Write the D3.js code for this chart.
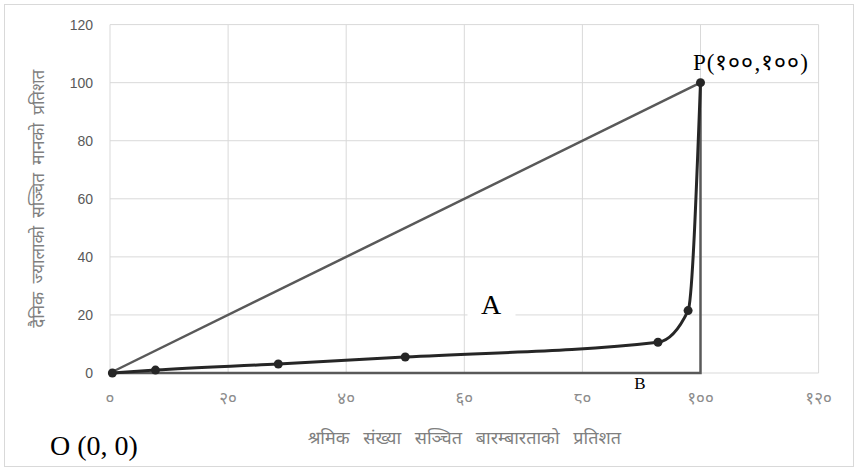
<!DOCTYPE html>
<html lang="ne">
  <head>
    <meta charset="UTF-8" />
    <title>Lorenz curve</title>
    <style>
      body {
        margin: 0;
        background: #fff;
      }
      .tick-y {
        font-family: 'Liberation Sans', Arial, sans-serif;
        font-size: 14px;
        fill: #595959;
      }
      .tick-x {
        font-family: 'Noto Sans', 'Liberation Sans', sans-serif;
        font-size: 17px;
        fill: #8c8c8c;
      }
      .axis-title {
        font-family: 'Noto Sans', 'Liberation Sans', sans-serif;
        font-size: 17px;
        fill: #7f7f7f;
      }
      .note {
        font-family: 'Liberation Serif', 'Times New Roman', serif;
        fill: #000;
      }
    </style>
  </head>
  <body>
    <div id="main"></div>
    <script src="https://cdn.jsdelivr.net/npm/d3@7"></script>
    <script>
      // cumulative % of workers vs cumulative % of daily wages
      const workerPct = [0.4, 7.7, 28.5, 50.0, 92.8, 97.9, 100]
      const wagePct = [0, 1.0, 3.1, 5.5, 10.6, 21.5, 100]
      // line of equality O -> P
      const equalX = [0, 100]
      const equalY = [0, 100]
      // O -> B -> P
      const boundX = [0, 100, 100]
      const boundY = [0, 0, 100]

      const xTicks = [0, 20, 40, 60, 80, 100, 120]
      const xTickLabels = ['०', '२०', '४०', '६०', '८०', '१००', '१२०']
      const yTicks = [0, 20, 40, 60, 80, 100, 120]

      const xTitle = 'श्रमिक संख्या सञ्चित बारम्बारताको प्रतिशत'
      const yTitle = 'दैनिक ज्यालाको सञ्चित मानको प्रतिशत'

      const [width, height] = [858, 471]
      const plot = { left: 110, right: 818.6, top: 24.6, bottom: 373 }

      const svg = d3
        .select('#main')
        .append('svg')
        .attr('width', width)
        .attr('height', height)
        .attr('viewBox', `0 0 ${width} ${height}`)

      // chart frame
      svg
        .append('rect')
        .attr('x', 4.5)
        .attr('y', 4.5)
        .attr('width', width - 9)
        .attr('height', height - 9)
        .attr('fill', '#fff')
        .attr('stroke', '#d9d9d9')

      const xScale = d3.scaleLinear().domain([0, 120]).range([plot.left, plot.right])
      const yScale = d3.scaleLinear().domain([0, 120]).range([plot.bottom, plot.top])

      // grid
      const grid = svg.append('g').attr('stroke', '#d9d9d9').attr('stroke-width', 1)
      grid
        .selectAll('.gx')
        .data(xTicks)
        .join('line')
        .attr('x1', d => xScale(d))
        .attr('x2', d => xScale(d))
        .attr('y1', plot.top)
        .attr('y2', plot.bottom)
      grid
        .selectAll('.gy')
        .data(yTicks)
        .join('line')
        .attr('y1', d => yScale(d))
        .attr('y2', d => yScale(d))
        .attr('x1', plot.left)
        .attr('x2', plot.right)

      // tick labels
      svg
        .append('g')
        .selectAll('text')
        .data(yTicks)
        .join('text')
        .attr('class', 'tick-y')
        .attr('x', plot.left - 17)
        .attr('y', d => yScale(d))
        .attr('dy', '0.35em')
        .attr('text-anchor', 'end')
        .text(d => d)

      svg
        .append('g')
        .selectAll('text')
        .data(xTicks)
        .join('text')
        .attr('class', 'tick-x')
        .attr('x', d => xScale(d))
        .attr('y', plot.bottom + 25)
        .attr('dy', '0.35em')
        .attr('text-anchor', 'middle')
        .text((_, i) => xTickLabels[i])

      // axis titles
      svg
        .append('text')
        .attr('class', 'axis-title')
        .attr('x', (plot.left + plot.right) / 2)
        .attr('y', 438)
        .attr('dy', '0.35em')
        .attr('text-anchor', 'middle')
        .style('font-size', '18px')
        .style('word-spacing', '9px')
        .text(xTitle)

      svg
        .append('text')
        .attr('class', 'axis-title')
        .attr('transform', `translate(38, ${(plot.top + plot.bottom) / 2}) rotate(-90)`)
        .attr('dy', '0.35em')
        .attr('text-anchor', 'middle')
        .style('word-spacing', '4px')
        .text(yTitle)

      const line = d3
        .line()
        .x(d => xScale(d[0]))
        .y(d => yScale(d[1]))

      const zip = (xs, ys) => xs.map((x, i) => [x, ys[i]])

      // "A" label box sits on the grid, under the lines
      svg
        .append('rect')
        .attr('x', 467.5)
        .attr('y', 286)
        .attr('width', 48)
        .attr('height', 40)
        .attr('fill', '#fff')
      svg
        .append('text')
        .attr('class', 'note')
        .attr('x', 491)
        .attr('y', 314)
        .attr('text-anchor', 'middle')
        .style('font-size', '28px')
        .text('A')

      svg
        .append('path')
        .attr('d', line(zip(equalX, equalY)))
        .attr('fill', 'none')
        .attr('stroke', '#595959')
        .attr('stroke-width', 2.5)

      svg
        .append('path')
        .attr('d', line(zip(boundX, boundY)))
        .attr('fill', 'none')
        .attr('stroke', '#595959')
        .attr('stroke-width', 2.5)

      const lorenz = zip(workerPct, wagePct)
      svg
        .append('path')
        .attr('d', line.curve(d3.curveMonotoneX)(lorenz))
        .attr('fill', 'none')
        .attr('stroke', '#262626')
        .attr('stroke-width', 3)

      svg
        .append('g')
        .selectAll('circle')
        .data(lorenz)
        .join('circle')
        .attr('cx', d => xScale(d[0]))
        .attr('cy', d => yScale(d[1]))
        .attr('r', 4.5)
        .attr('fill', '#262626')

      // annotations
      svg
        .append('text')
        .attr('class', 'note')
        .attr('x', 693)
        .attr('y', 70)
        .style('font-size', '23px')
        .style('letter-spacing', '1px')
        .text('P(१००,१००)')

      svg
        .append('text')
        .attr('class', 'note')
        .attr('x', 640)
        .attr('y', 389)
        .attr('text-anchor', 'middle')
        .style('font-size', '17px')
        .text('B')

      svg
        .append('text')
        .attr('class', 'note')
        .attr('x', 50)
        .attr('y', 455)
        .style('font-size', '28px')
        .text('O (0, 0)')
    </script>
  </body>
</html>
